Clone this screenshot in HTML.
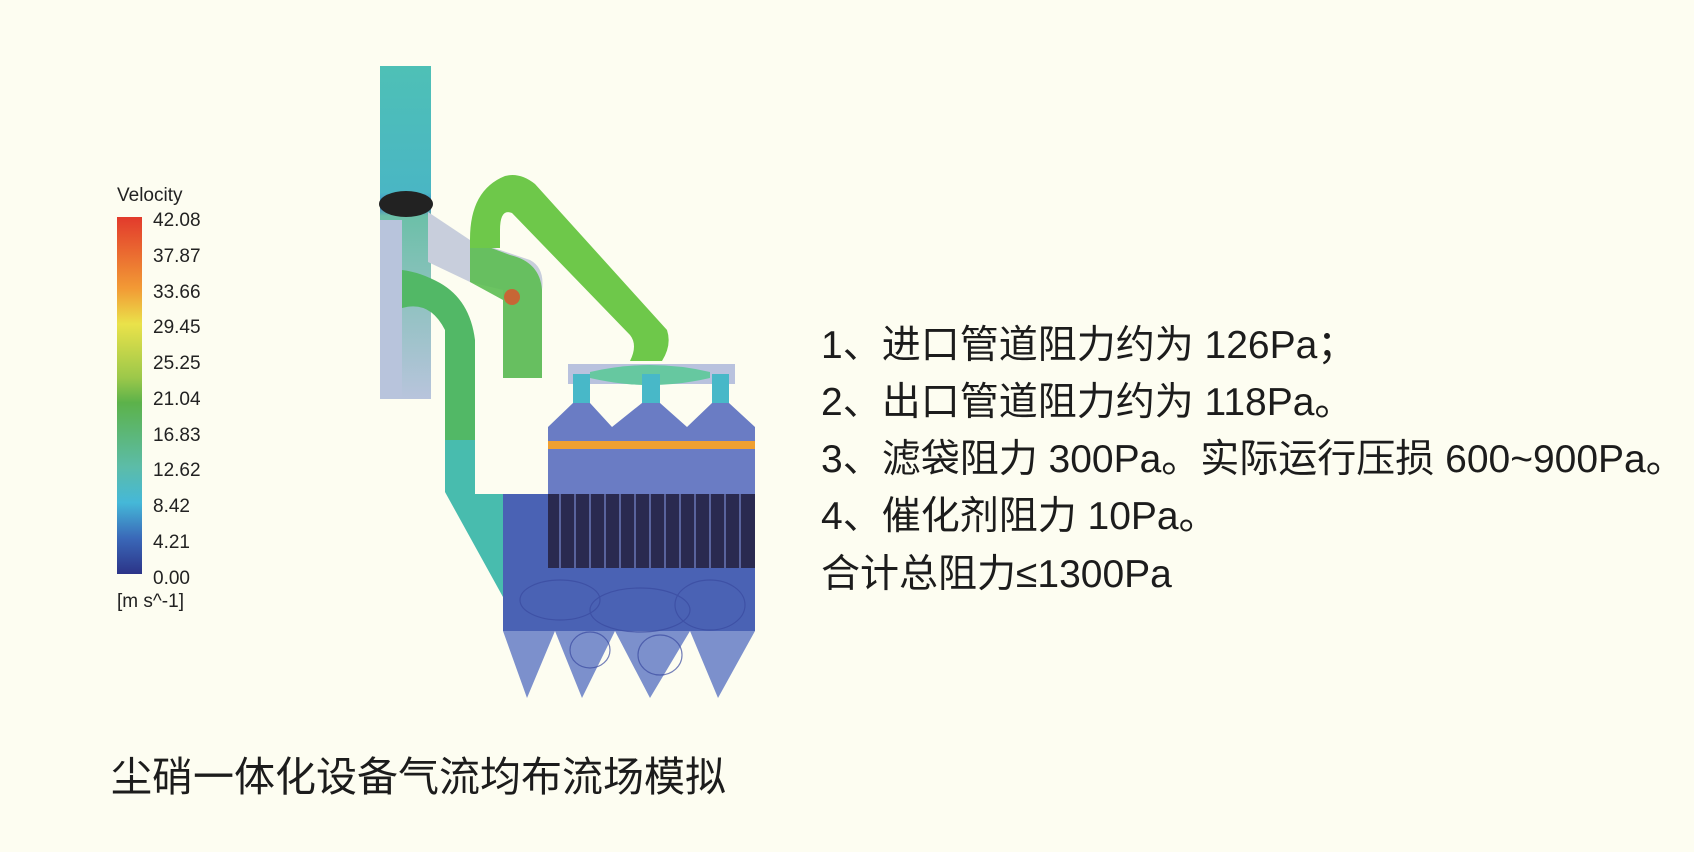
<!DOCTYPE html>
<html><head><meta charset="utf-8"><style>
html,body{margin:0;padding:0;background:#fdfdf1;}
body{width:1694px;height:852px;position:relative;overflow:hidden;font-family:"Liberation Sans","Noto Sans CJK SC",sans-serif;}
.lg{position:absolute;font-size:19px;color:#222;line-height:1;}
.t{position:absolute;left:821px;font-size:39px;color:#1c1c1c;line-height:1;white-space:nowrap;font-family:"Liberation Sans","Noto Sans CJK SC",sans-serif;}
</style></head><body>
<svg width="1694" height="852" style="position:absolute;left:0;top:0">
<defs>
<linearGradient id="cb" x1="0" y1="0" x2="0" y2="1">
<stop offset="0" stop-color="#e23a2c"/><stop offset="0.2" stop-color="#f29a35"/><stop offset="0.3" stop-color="#eae24a"/><stop offset="0.45" stop-color="#9cc84a"/><stop offset="0.52" stop-color="#5cb24a"/><stop offset="0.7" stop-color="#5cbca8"/><stop offset="0.8" stop-color="#45b8d8"/><stop offset="0.9" stop-color="#3a68b8"/><stop offset="1" stop-color="#2c3488"/>
</linearGradient>
<linearGradient id="vp" x1="0" y1="0" x2="0" y2="1">
<stop offset="0" stop-color="#4ec0b6"/><stop offset="0.38" stop-color="#4ab6c4"/><stop offset="0.42" stop-color="#3c80c8"/><stop offset="0.45" stop-color="#6cc0a8"/><stop offset="1" stop-color="#b8c4dc"/>
</linearGradient>
</defs>
<rect x="117" y="217" width="25" height="357" fill="url(#cb)"/>
<rect x="380" y="66" width="51" height="333" fill="url(#vp)"/>
<rect x="380" y="220" width="22" height="179" fill="#b8c4dc"/>
<path d="M428 212 L470 240 L530 260 Q545 268 542 290 L542 378 L503 378 L503 290 L470 282 L428 262 Z" fill="#c8cedc"/>
<path d="M470 240 L470 282 L503 300 L503 378 L542 378 L542 290 Q540 262 510 255 Z" fill="#5cbe52" opacity="0.9"/>
<circle cx="512" cy="297" r="8" fill="#e0502a" opacity="0.8"/>
<path d="M402 270 L402 308 Q430 300 445 330 L445 440 L475 440 L475 340 Q470 300 440 283 Q420 272 402 270 Z" fill="#52b866"/>
<path d="M445 440 L475 440 L475 494 L503 494 L503 597 L445 492 Z" fill="#48bcae"/>
<path d="M470 239 Q470 190 505 176 Q520 172 535 184 L667 330 Q672 345 662 361 L630 361 Q638 345 630 335 L512 213 Q500 208 500 230 L500 248 L470 248 Z" fill="#6ec84a"/>
<rect x="568" y="364" width="167" height="20" fill="#b9c2de"/>
<path d="M590 372 Q650 358 710 372 L710 378 Q650 392 590 378 Z" fill="#66c8a0"/>
<rect x="573" y="374" width="17" height="30" fill="#48b8c8"/>
<rect x="642" y="374" width="18" height="30" fill="#48b8c8"/>
<rect x="712" y="374" width="17" height="30" fill="#48b8c8"/>
<path d="M548 427 L573 403 L590 403 L612 427 L642 403 L660 403 L687 427 L712 403 L729 403 L755 427 L755 568 L548 568 Z" fill="#6a7cc4"/>
<rect x="548" y="441" width="207" height="8" fill="#f0a030"/>
<rect x="548" y="494" width="207" height="74" fill="#2a2a50"/>
<g stroke="#6a78b8" stroke-width="1.5">
<line x1="560" y1="494" x2="560" y2="568"/><line x1="575" y1="494" x2="575" y2="568"/><line x1="590" y1="494" x2="590" y2="568"/><line x1="605" y1="494" x2="605" y2="568"/><line x1="620" y1="494" x2="620" y2="568"/><line x1="635" y1="494" x2="635" y2="568"/><line x1="650" y1="494" x2="650" y2="568"/><line x1="665" y1="494" x2="665" y2="568"/><line x1="680" y1="494" x2="680" y2="568"/><line x1="695" y1="494" x2="695" y2="568"/><line x1="710" y1="494" x2="710" y2="568"/><line x1="725" y1="494" x2="725" y2="568"/><line x1="740" y1="494" x2="740" y2="568"/>
</g>
<path d="M503 494 L548 494 L548 568 L755 568 L755 631 L503 631 Z" fill="#4a62b4"/>
<path d="M503 631 L755 631 L718 698 L690 631 L650 698 L615 631 L582 698 L555 631 L527 698 Z" fill="#7c90cc"/>
<g fill="none" stroke="#3a4aa0" stroke-width="1.2" opacity="0.7">
<ellipse cx="560" cy="600" rx="40" ry="20"/><ellipse cx="640" cy="610" rx="50" ry="22"/><ellipse cx="710" cy="605" rx="35" ry="25"/>
<ellipse cx="590" cy="650" rx="20" ry="18"/><ellipse cx="660" cy="655" rx="22" ry="20"/>
</g>
<ellipse cx="406" cy="204" rx="27" ry="13" fill="#222"/>
</svg>
<div class="lg" style="left:117px;top:186px;">Velocity</div>
<div class="lg" style="left:153px;top:211px;">42.08</div>
<div class="lg" style="left:153px;top:247px;">37.87</div>
<div class="lg" style="left:153px;top:283px;">33.66</div>
<div class="lg" style="left:153px;top:318px;">29.45</div>
<div class="lg" style="left:153px;top:354px;">25.25</div>
<div class="lg" style="left:153px;top:390px;">21.04</div>
<div class="lg" style="left:153px;top:426px;">16.83</div>
<div class="lg" style="left:153px;top:461px;">12.62</div>
<div class="lg" style="left:153px;top:497px;">8.42</div>
<div class="lg" style="left:153px;top:533px;">4.21</div>
<div class="lg" style="left:153px;top:569px;">0.00</div>
<div class="lg" style="left:117px;top:592px;">[m s^-1]</div>
<div class="t" style="top:326px;">1、进口管道阻力约为 126Pa；</div>
<div class="t" style="top:383px;">2、出口管道阻力约为 118Pa。</div>
<div class="t" style="top:440px;">3、滤袋阻力 300Pa。实际运行压损 600~900Pa。</div>
<div class="t" style="top:497px;">4、催化剂阻力 10Pa。</div>
<div class="t" style="top:555px;">合计总阻力≤1300Pa</div>
<div class="t" style="left:111px;top:757px;font-size:41px;">尘硝一体化设备气流均布流场模拟</div>
</body></html>
